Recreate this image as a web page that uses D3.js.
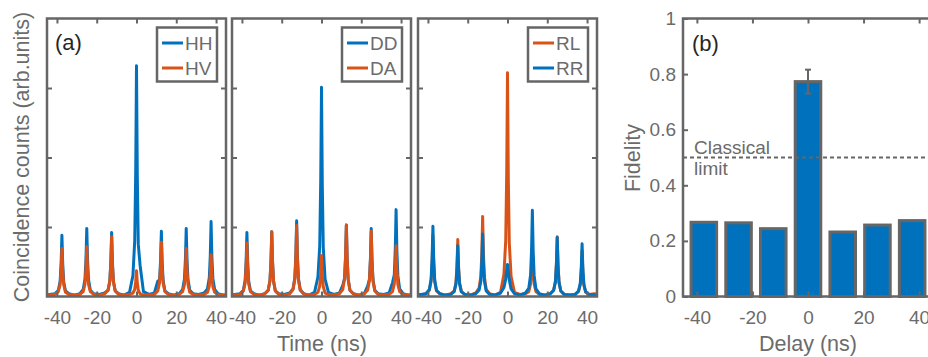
<!DOCTYPE html>
<html><head><meta charset="utf-8">
<script src="https://cdn.jsdelivr.net/npm/d3@7"></script>
<style>
html,body{margin:0;padding:0;background:#fff;}
svg{display:block;font-family:"Liberation Sans",Arial,Helvetica,sans-serif;}
</style></head>
<body>
<svg id="chart" width="928" height="357"></svg>
<script>
// ---------- DATA ----------
const timeNs = [-45, -43.75,
 -41, -39.3, -38.4, -37.9, -37.5, -37.1, -36.6, -35.7, -34, -31.25,
 -28.5, -26.8, -25.9, -25.4, -25, -24.6, -24.1, -23.2, -21.5, -18.75,
 -16, -14.3, -13.4, -12.9, -12.5, -12.1, -11.6, -10.7, -9, -6.25,
 -3.5, -1.8, -0.9, -0.4, 0, 0.4, 0.9, 1.8, 3.5, 6.25,
 9, 10.7, 11.6, 12.1, 12.5, 12.9, 13.4, 14.3, 16, 18.75,
 21.5, 23.2, 24.1, 24.6, 25, 25.4, 25.9, 26.8, 28.5, 31.25,
 34, 35.7, 36.6, 37.1, 37.5, 37.9, 38.4, 39.3, 41, 43.75,
 45];

const HH = [0.02, 0.03,
 0.04, 0.09, 0.22, 0.48, 0.88, 0.47, 0.21, 0.08, 0.04, 0.02,
 0.04, 0.10, 0.25, 0.54, 0.98, 0.52, 0.24, 0.09, 0.04, 0.03,
 0.05, 0.09, 0.23, 0.51, 0.92, 0.49, 0.22, 0.08, 0.04, 0.02,
 0.06, 0.30, 0.80, 1.80, 3.32, 1.75, 0.75, 0.45, 0.07, 0.03,
 0.05, 0.22, 0.24, 0.52, 0.94, 0.50, 0.23, 0.08, 0.04, 0.02,
 0.04, 0.10, 0.25, 0.54, 0.98, 0.52, 0.24, 0.09, 0.04, 0.03,
 0.05, 0.11, 0.27, 0.59, 1.08, 0.57, 0.26, 0.10, 0.04, 0.02,
 0.02];
const HV = [0.02, 0.02,
 0.03, 0.07, 0.17, 0.38, 0.69, 0.37, 0.17, 0.06, 0.03, 0.02,
 0.03, 0.07, 0.18, 0.40, 0.72, 0.38, 0.17, 0.07, 0.03, 0.02,
 0.04, 0.09, 0.22, 0.47, 0.86, 0.46, 0.21, 0.08, 0.03, 0.02,
 0.03, 0.05, 0.10, 0.21, 0.37, 0.20, 0.09, 0.04, 0.02, 0.02,
 0.03, 0.08, 0.20, 0.43, 0.78, 0.41, 0.19, 0.07, 0.03, 0.02,
 0.03, 0.07, 0.17, 0.38, 0.69, 0.37, 0.17, 0.06, 0.03, 0.02,
 0.03, 0.06, 0.15, 0.33, 0.60, 0.32, 0.14, 0.06, 0.03, 0.02,
 0.02];
const DD = [0.02, 0.03,
 0.04, 0.09, 0.23, 0.51, 0.92, 0.49, 0.22, 0.08, 0.04, 0.02,
 0.04, 0.09, 0.23, 0.51, 0.93, 0.49, 0.22, 0.08, 0.04, 0.03,
 0.05, 0.11, 0.27, 0.60, 1.09, 0.58, 0.26, 0.10, 0.04, 0.02,
 0.06, 0.28, 0.72, 1.65, 3.01, 1.60, 0.70, 0.25, 0.06, 0.03,
 0.05, 0.16, 0.26, 0.57, 1.03, 0.55, 0.25, 0.09, 0.04, 0.02,
 0.04, 0.15, 0.25, 0.54, 0.98, 0.52, 0.24, 0.09, 0.04, 0.03,
 0.05, 0.20, 0.31, 0.69, 1.25, 0.66, 0.30, 0.11, 0.04, 0.02,
 0.02];
const DA = [0.02, 0.02,
 0.03, 0.08, 0.19, 0.42, 0.77, 0.41, 0.18, 0.07, 0.03, 0.02,
 0.04, 0.09, 0.23, 0.51, 0.93, 0.49, 0.22, 0.08, 0.03, 0.02,
 0.04, 0.10, 0.25, 0.56, 1.02, 0.54, 0.24, 0.09, 0.04, 0.02,
 0.03, 0.06, 0.15, 0.32, 0.59, 0.31, 0.14, 0.05, 0.03, 0.02,
 0.04, 0.10, 0.26, 0.57, 1.03, 0.55, 0.25, 0.09, 0.04, 0.02,
 0.04, 0.09, 0.23, 0.52, 0.94, 0.50, 0.22, 0.08, 0.03, 0.02,
 0.03, 0.07, 0.18, 0.40, 0.73, 0.39, 0.17, 0.07, 0.03, 0.02,
 0.02];
const RL = [0.03, 0.02,
 0.04, 0.09, 0.22, 0.48, 0.88, 0.47, 0.21, 0.08, 0.04, 0.02,
 0.04, 0.08, 0.20, 0.45, 0.82, 0.43, 0.20, 0.07, 0.03, 0.02,
 0.05, 0.12, 0.29, 0.63, 1.15, 0.61, 0.28, 0.10, 0.04, 0.02,
 0.06, 0.32, 0.80, 1.77, 3.22, 1.70, 0.77, 0.29, 0.06, 0.03,
 0.04, 0.07, 0.18, 0.40, 0.73, 0.39, 0.18, 0.07, 0.03, 0.02,
 0.04, 0.09, 0.22, 0.47, 0.86, 0.46, 0.21, 0.08, 0.03, 0.02,
 0.03, 0.07, 0.17, 0.36, 0.66, 0.35, 0.16, 0.06, 0.03, 0.04,
 0.03];
const RR = [0.02, 0.03,
 0.04, 0.10, 0.25, 0.56, 1.01, 0.54, 0.24, 0.09, 0.04, 0.02,
 0.03, 0.07, 0.18, 0.40, 0.73, 0.39, 0.18, 0.07, 0.03, 0.02,
 0.04, 0.09, 0.22, 0.50, 0.90, 0.48, 0.22, 0.08, 0.03, 0.02,
 0.05, 0.13, 0.25, 0.38, 0.46, 0.37, 0.24, 0.11, 0.04, 0.02,
 0.05, 0.12, 0.31, 0.68, 1.24, 0.66, 0.30, 0.11, 0.04, 0.02,
 0.04, 0.09, 0.21, 0.47, 0.85, 0.45, 0.20, 0.08, 0.03, 0.02,
 0.03, 0.08, 0.19, 0.42, 0.76, 0.40, 0.18, 0.07, 0.03, 0.02,
 0.02];

const timeTicks = [-40, -20, 0, 20, 40];
const countTicks = [1, 2, 3];

const delays = [-37.5, -25, -12.5, 0, 12.5, 25, 37.5];
const fidelity = [0.267, 0.265, 0.244, 0.773, 0.232, 0.257, 0.273];
const fidelityErr = [0, 0, 0, 0.043, 0, 0, 0];
const delayTicks = [-40, -20, 0, 20, 40];
const fidelityTicks = [0, 0.2, 0.4, 0.6, 0.8, 1];
const classicalLimit = 0.5;

const panels = [
  {label: "(a)", series: [{name: "HH", values: HH, color: "blue"}, {name: "HV", values: HV, color: "orange"}]},
  {label: null, series: [{name: "DD", values: DD, color: "blue"}, {name: "DA", values: DA, color: "orange"}]},
  {label: null, series: [{name: "RL", values: RL, color: "orange"}, {name: "RR", values: RR, color: "blue"}]}
];

// ---------- STYLE ----------
const COLORS = {blue: "#0072BD", orange: "#D95319"};
const AX = "#666666";
const TXT = "#6b6b6b";
const svg = d3.select("#chart");
const yTop = 18.5, yBottom = 296.5;
const panelX = [[47, 226], [232, 411], [418, 597]];
const fmtInt = d => String(d);

const y = d3.scaleLinear().domain([0, 4]).range([yBottom, yTop]);

function styleAxis(g) {
  g.select(".domain").remove();
  g.selectAll(".tick line").attr("stroke", AX).attr("stroke-width", 2);
  g.selectAll(".tick text").attr("fill", TXT).style("font-size", "19px")
    .style("font-family", '"Liberation Sans",Arial,sans-serif');
}

panels.forEach((p, i) => {
  const [x0, x1] = panelX[i];
  const x = d3.scaleLinear().domain([-45, 45]).range([x0, x1]);
  const g = svg.append("g");
  const cid = "clip" + i;
  svg.append("clipPath").attr("id", cid).append("rect")
    .attr("x", x0).attr("y", yTop).attr("width", x1 - x0).attr("height", yBottom - yTop);

  const line = d3.line().x((d, k) => x(timeNs[k])).y(d => y(d));
  p.series.forEach(s => {
    g.append("path").datum(s.values)
      .attr("clip-path", `url(#${cid})`)
      .attr("d", line).attr("fill", "none")
      .attr("stroke", COLORS[s.color]).attr("stroke-width", 3)
      .attr("stroke-linejoin", "round");
  });

  g.append("g").attr("transform", `translate(0,${yBottom})`)
    .call(d3.axisBottom(x).tickValues(timeTicks).tickFormat(fmtInt).tickSizeInner(-5).tickSizeOuter(0).tickPadding(14))
    .call(styleAxis);
  g.append("g").attr("transform", `translate(0,${yTop})`)
    .call(d3.axisTop(x).tickValues(timeTicks).tickFormat("").tickSizeInner(-5).tickSizeOuter(0))
    .call(styleAxis);
  g.append("g").attr("transform", `translate(${x0},0)`)
    .call(d3.axisLeft(y).tickValues(countTicks).tickFormat("").tickSizeInner(-5).tickSizeOuter(0))
    .call(styleAxis);
  g.append("g").attr("transform", `translate(${x1},0)`)
    .call(d3.axisRight(y).tickValues(countTicks).tickFormat("").tickSizeInner(-5).tickSizeOuter(0))
    .call(styleAxis);

  g.append("rect").attr("x", x0).attr("y", yTop).attr("width", x1 - x0).attr("height", yBottom - yTop)
    .attr("fill", "none").attr("stroke", AX).attr("stroke-width", 2.5);

  const lx = x1 - 69, ly = 27.5;
  const lg = g.append("g").attr("transform", `translate(${lx},${ly})`);
  lg.append("rect").attr("width", 60).attr("height", 54).attr("fill", "#fff")
    .attr("stroke", AX).attr("stroke-width", 2.5);
  p.series.forEach((s, k) => {
    const yy = 15.5 + k * 25;
    lg.append("line").attr("x1", 5).attr("x2", 26).attr("y1", yy).attr("y2", yy)
      .attr("stroke", COLORS[s.color]).attr("stroke-width", 3);
    lg.append("text").attr("x", 28).attr("y", yy + 7).text(s.name)
      .attr("fill", TXT).style("font-size", "19px");
  });

  if (p.label) {
    g.append("text").attr("x", 55).attr("y", 50).text(p.label)
      .attr("fill", "#262626").style("font-size", "22px");
  }
});

svg.append("text").attr("transform", "translate(29,157) rotate(-90)")
  .attr("text-anchor", "middle").attr("fill", TXT).style("font-size", "21.5px")
  .text("Coincidence counts (arb.units)");
svg.append("text").attr("x", 322).attr("y", 351).attr("text-anchor", "middle")
  .attr("fill", TXT).style("font-size", "21.5px").text("Time (ns)");

// ---------- PANEL (b) ----------
const bx0 = 683;
const xb = d3.scaleLinear().domain([-45, 45]).range([bx0, bx0 + 250]);
const yb = d3.scaleLinear().domain([0, 1]).range([yBottom, yTop]);
const gb = svg.append("g");
const barW = xb(9.2) - xb(0);

gb.selectAll("rect.bar").data(delays).enter().append("rect").attr("class", "bar")
  .attr("x", (d) => xb(d) - barW / 2)
  .attr("width", barW)
  .attr("y", (d, i) => yb(fidelity[i]))
  .attr("height", (d, i) => yb(0) - yb(fidelity[i]))
  .attr("fill", COLORS.blue).attr("stroke", AX).attr("stroke-width", 3);

delays.forEach((d, i) => {
  if (fidelityErr[i] > 0) {
    const cx = xb(d);
    const e = gb.append("g").attr("stroke", AX).attr("stroke-width", 2);
    e.append("line").attr("x1", cx).attr("x2", cx).attr("y1", yb(fidelity[i] - fidelityErr[i])).attr("y2", yb(fidelity[i] + fidelityErr[i]));
    e.append("line").attr("x1", cx - 3).attr("x2", cx + 3).attr("y1", yb(fidelity[i] - fidelityErr[i])).attr("y2", yb(fidelity[i] - fidelityErr[i]));
    e.append("line").attr("x1", cx - 3).attr("x2", cx + 3).attr("y1", yb(fidelity[i] + fidelityErr[i])).attr("y2", yb(fidelity[i] + fidelityErr[i]));
  }
});

gb.append("line").attr("x1", bx0).attr("x2", 928).attr("y1", yb(classicalLimit)).attr("y2", yb(classicalLimit))
  .attr("stroke", AX).attr("stroke-width", 2).attr("stroke-dasharray", "4,3");
gb.append("text").attr("x", 694).attr("y", 154).attr("fill", TXT).style("font-size", "19px").text("Classical");
gb.append("text").attr("x", 694).attr("y", 175).attr("fill", TXT).style("font-size", "19px").text("limit");

gb.append("g").attr("transform", `translate(0,${yBottom})`)
  .call(d3.axisBottom(xb).tickValues(delayTicks).tickFormat(fmtInt).tickSizeInner(-5).tickSizeOuter(0).tickPadding(14))
  .call(styleAxis);
gb.append("g").attr("transform", `translate(0,${yTop})`)
  .call(d3.axisTop(xb).tickValues(delayTicks).tickFormat("").tickSizeInner(-5).tickSizeOuter(0))
  .call(styleAxis);
gb.append("g").attr("transform", `translate(${bx0},0)`)
  .call(d3.axisLeft(yb).tickValues(fidelityTicks).tickFormat(d => String(d)).tickSizeInner(-5).tickSizeOuter(0).tickPadding(7))
  .call(styleAxis);

gb.append("rect").attr("x", bx0).attr("y", yTop).attr("width", 260).attr("height", yBottom - yTop)
  .attr("fill", "none").attr("stroke", AX).attr("stroke-width", 2.5);

gb.append("text").attr("x", 692).attr("y", 51).text("(b)")
  .attr("fill", "#262626").style("font-size", "22px");

svg.append("text").attr("transform", "translate(640,158) rotate(-90)")
  .attr("text-anchor", "middle").attr("fill", TXT).style("font-size", "21.5px").text("Fidelity");
svg.append("text").attr("x", 808).attr("y", 351).attr("text-anchor", "middle")
  .attr("fill", TXT).style("font-size", "21.5px").text("Delay (ns)");
</script>
</body></html>
